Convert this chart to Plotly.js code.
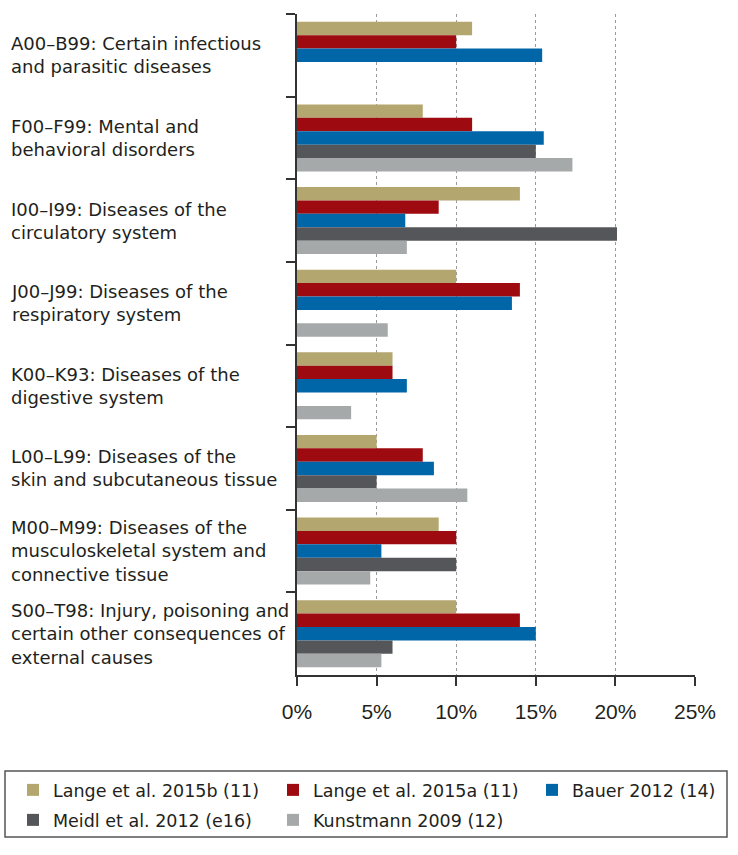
<!DOCTYPE html>
<html>
<head>
<meta charset="utf-8">
<script src="https://cdn.plot.ly/plotly-3.0.1.min.js"></script>
<style>
  html, body { margin: 0; padding: 0; background: #fff; }
  #chart { width: 738px; height: 855px; }
</style>
</head>
<body>
<div id="chart"></div>
<script>
// ---- data ----
const categories = ["A00–B99", "F00–F99", "I00–I99", "J00–J99", "K00–K93", "L00–L99", "M00–M99", "S00–T98"];
const categoryLabels = [
  "A00–B99: Certain infectious<br>and parasitic diseases",
  "F00–F99: Mental and<br>behavioral disorders",
  "I00–I99: Diseases of the<br>circulatory system",
  "J00–J99: Diseases of the<br>respiratory system",
  "K00–K93: Diseases of the<br>digestive system",
  "L00–L99: Diseases of the<br>skin and subcutaneous tissue",
  "M00–M99: Diseases of the<br>musculoskeletal system and<br>connective tissue",
  "S00–T98: Injury, poisoning and<br>certain other consequences of<br>external causes"
];
const seriesNames = ["Lange et al. 2015b (11)", "Lange et al. 2015a (11)", "Bauer 2012 (14)", "Meidl et al. 2012 (e16)", "Kunstmann 2009 (12)"];
const lange2015b = [11.0, 7.9, 14.0, 10.0, 6.0, 5.0, 8.9, 10.0];
const lange2015a = [10.0, 11.0, 8.9, 14.0, 6.0, 7.9, 10.0, 14.0];
const bauer2012 = [15.4, 15.5, 6.8, 13.5, 6.9, 8.6, 5.3, 15.0];
const meidl2012 = [null, 15.0, 20.1, null, null, 5.0, 10.0, 6.0];
const kunstmann2009 = [null, 17.3, 6.9, 5.7, 3.4, 10.7, 4.6, 5.3];
const xTickVals = [0, 5, 10, 15, 20, 25];
const xTickText = ["0%", "5%", "10%", "15%", "20%", "25%"];

// ---- styles ----
const colors = ["#B3A66F", "#9D0A10", "#0066A8", "#545659", "#A6A9AA"];
const FONT = "DejaVu Sans, Liberation Sans, Arial, sans-serif";
const TICKFONT = "Liberation Sans, Arial, Helvetica, sans-serif";
const TXT = "#231f20";
const seriesValues = [lange2015b, lange2015a, bauer2012, meidl2012, kunstmann2009];
const legendIds = ["legend", "legend2", "legend3", "legend4", "legend5"];

// plot area geometry (px) for paper-coordinate conversion
const W = 738, H = 855, ML = 297, MR = 43, MT = 14, MB = 180;
const PW = W - ML - MR, PH = H - MT - MB;
const px2x = p => (p - ML) / PW;
const py2y = p => (H - MB - p) / PH;

const traces = seriesValues.map((vals, i) => ({
  type: "bar",
  orientation: "h",
  name: seriesNames[i],
  x: vals,
  y: categories,
  marker: { color: colors[i], line: { width: 0 } },
  legend: legendIds[i],
  hoverinfo: "x+name"
}));

const legendPos = [
  { x: 13, y: 790 }, { x: 273, y: 790 }, { x: 532, y: 790 },
  { x: 13, y: 820 }, { x: 273, y: 820 }
];

const layout = {
  width: W, height: H,
  margin: { l: ML, r: MR, t: MT, b: MB, pad: 0 },
  paper_bgcolor: "#fff",
  plot_bgcolor: "#fff",
  font: { family: FONT, size: 18, color: TXT },
  barmode: "group",
  bargap: 0.19,
  bargroupgap: 0,
  xaxis: {
    range: [0, 25],
    tickvals: xTickVals,
    ticktext: xTickText,
    ticks: "outside",
    ticklen: 9,
    tickwidth: 1.5,
    tickcolor: "#333",
    ticklabelstandoff: 8,
    tickfont: { family: TICKFONT, size: 21, color: TXT },
    showgrid: true,
    gridcolor: "#9a9a9a",
    gridwidth: 1,
    griddash: "dot",
    zeroline: false,
    showline: true,
    linecolor: "#333",
    linewidth: 2,
    fixedrange: true
  },
  yaxis: {
    type: "category",
    categoryorder: "array",
    categoryarray: categories,
    autorange: "reversed",
    tickson: "boundaries",
    ticks: "outside",
    ticklen: 9,
    tickwidth: 1.5,
    tickcolor: "#333",
    showticklabels: false,
    showgrid: false,
    zeroline: false,
    showline: true,
    linecolor: "#333",
    linewidth: 2,
    fixedrange: true
  },
  annotations: categories.map((c, i) => ({
    xref: "paper", yref: "y",
    x: px2x(9), y: c,
    xanchor: "left", yanchor: "middle", align: "left",
    text: categoryLabels[i],
    showarrow: false,
    font: { family: FONT, size: 18, color: TXT }
  })),
  shapes: [{
    type: "rect", xref: "paper", yref: "paper",
    x0: px2x(5), x1: px2x(727), y0: py2y(837), y1: py2y(771),
    line: { color: "#555", width: 1.5 },
    fillcolor: "rgba(0,0,0,0)",
    layer: "above"
  }],
  showlegend: true
};

legendIds.forEach((id, i) => {
  layout[id] = {
    x: px2x(legendPos[i].x), y: py2y(legendPos[i].y),
    xanchor: "left", yanchor: "middle",
    orientation: "h",
    bgcolor: "rgba(0,0,0,0)",
    borderwidth: 0,
    font: { family: FONT, size: 17.5, color: TXT },
    itemclick: false, itemdoubleclick: false
  };
});

Plotly.newPlot("chart", traces, layout, { displayModeBar: false, staticPlot: false });
</script>
</body>
</html>
